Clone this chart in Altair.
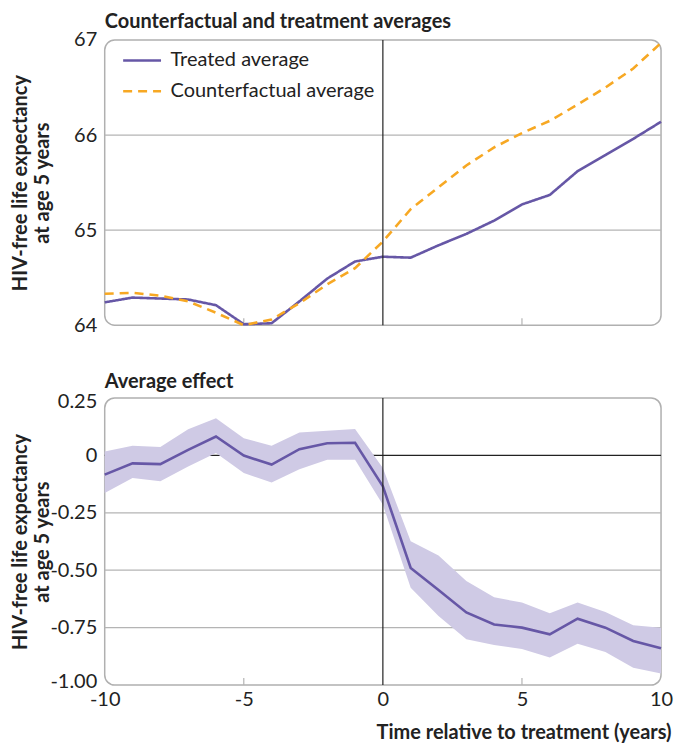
import altair as alt
import pandas as pd

# ---------------- data ----------------
years = list(range(-10, 11))
treated = [64.24, 64.29, 64.28, 64.27, 64.21, 64.01, 64.02, 64.25, 64.49, 64.67, 64.72,
           64.71, 64.84, 64.96, 65.10, 65.27, 65.37, 65.62, 65.79, 65.96, 66.14]
counterfactual = [64.33, 64.34, 64.31, 64.25, 64.13, 64.00, 64.06, 64.23, 64.43, 64.60, 64.88,
                  65.22, 65.45, 65.68, 65.87, 66.02, 66.15, 66.32, 66.50, 66.70, 66.97]
effect = [-0.084, -0.035, -0.038, 0.024, 0.082, -0.001, -0.040, 0.027, 0.053, 0.055, -0.135,
          -0.490, -0.586, -0.684, -0.736, -0.750, -0.779, -0.711, -0.750, -0.808, -0.840]
effect_upper = [0.017, 0.042, 0.036, 0.114, 0.162, 0.075, 0.042, 0.100, 0.107, 0.115, -0.055,
                -0.374, -0.436, -0.547, -0.618, -0.641, -0.687, -0.641, -0.682, -0.740, -0.750]
effect_lower = [-0.164, -0.099, -0.113, -0.048, 0.010, -0.077, -0.118, -0.060, -0.019, -0.019, -0.215,
                -0.576, -0.699, -0.800, -0.826, -0.843, -0.880, -0.820, -0.856, -0.925, -0.950]

series_names = ["Treated average", "Counterfactual average"]
x_ticks = [-10, -5, 0, 5, 10]
inner_ticks = [-5, 5]
top_y_ticks = [64, 65, 66, 67]
top_grid = [65, 66]
bottom_y_ticks = [0.25, 0, -0.25, -0.5, -0.75, -1.0]
bottom_grid = [-0.25, -0.5, -0.75]
y_title = ["HIV-free life expectancy", "at age 5 years"]
x_title = "Time relative to treatment (years)"
top_title = "Counterfactual and treatment averages"
bottom_title = "Average effect"

# ---------------- style ----------------
PURPLE = "#6657a6"
ORANGE = "#f7a823"
BAND = "#cfcae5"
GRID = "#b4b4b4"
INK = "#222222"
FONT = "Lato"
FS = 20
W, H1, H2 = 558, 286, 288

avg_df = pd.DataFrame({
    "year": years * 2,
    "value": treated + counterfactual,
    "series": [series_names[0]] * len(years) + [series_names[1]] * len(years),
})
eff_df = pd.DataFrame({"year": years, "effect": effect, "upper": effect_upper, "lower": effect_lower})
tick_df = pd.DataFrame({"year": inner_ticks})
zero_x_df = pd.DataFrame({"year": [0]})


def y_axis(values, label_expr, h, flush=False):
    extra = {"labelFlush": True, "labelFlushOffset": 6} if flush else {}
    return alt.Axis(values=values, title=y_title, grid=False, domain=False, ticks=False,
                    labelExpr=label_expr, labelPadding=8, labelFontSize=FS, labelColor=INK,
                    titleAngle=-90, titleX=-94, titleY=h / 2, titleAlign="center",
                    titleBaseline="top", titleFontWeight="bold", titleFontSize=FS,
                    titleLineHeight=22, titleColor=INK, **extra)


x_scale = alt.Scale(domain=[-10, 10], nice=False, zero=False)
x_top = alt.X("year:Q", scale=x_scale, axis=None)
x_bottom_axis = alt.Axis(values=x_ticks, labelExpr="(datum.value < 0 ? '-' : '') + abs(datum.value)",
                         grid=False, domain=False, ticks=False, labelPadding=4, labelFlush=False,
                         labelFontSize=FS, labelColor=INK, title=x_title, titleFontWeight="bold",
                         titleFontSize=FS, titleColor=INK, titleAlign="right", titleX=W + 10,
                         titleY=48, titleBaseline="middle")
x_bottom = alt.X("year:Q", scale=x_scale, axis=x_bottom_axis)

# ---------------- top panel ----------------
top_scale = alt.Scale(domain=[64, 67], nice=False, zero=False)
top_axis = y_axis(top_y_ticks, "'' + datum.value", H1)
top_y = lambda f: alt.Y(f, scale=top_scale, axis=top_axis)

legend = alt.Legend(title=None, orient="none", legendX=17, legendY=0, symbolType="M-1,0L1,0",
                    symbolSize=1444, symbolStrokeWidth=2.5, labelFontSize=FS, labelColor=INK,
                    labelOffset=8, rowPadding=-17, padding=0, labelFont=FONT, labelLimit=0)

top_grid_layer = alt.Chart(pd.DataFrame({"value": top_grid})).mark_rule(
    color=GRID, strokeWidth=1.2).encode(y=top_y("value:Q"))
top_ticks = alt.Chart(tick_df).mark_rule(color=GRID, strokeWidth=1.2).encode(
    x=x_top, y=alt.value(H1), y2=alt.value(H1 - 7))
top_lines = alt.Chart(avg_df).mark_line(strokeWidth=2.6).encode(
    x=x_top,
    y=top_y("value:Q"),
    color=alt.Color("series:N", scale=alt.Scale(domain=series_names, range=[PURPLE, ORANGE]),
                    legend=legend),
    strokeDash=alt.StrokeDash("series:N", scale=alt.Scale(domain=series_names, range=[[1, 0], [9, 6]]),
                              legend=legend),
)
top_vline = alt.Chart(zero_x_df).mark_rule(color=INK, strokeWidth=1.2).encode(x=x_top)

top = alt.layer(top_grid_layer, top_ticks, top_lines, top_vline).properties(
    width=W, height=H1,
    title=alt.TitleParams(top_title, anchor="start", frame="group", fontSize=FS,
                          fontWeight="bold", color=INK, offset=-2, font=FONT),
)

# ---------------- bottom panel ----------------
bot_scale = alt.Scale(domain=[-1.0, 0.25], nice=False, zero=False)
bot_axis = y_axis(bottom_y_ticks,
                  "datum.value == 0 ? '0' : (datum.value < 0 ? '-' : '') + format(abs(datum.value), '.2f')",
                  H2, flush=True)
bot_y = lambda f: alt.Y(f, scale=bot_scale, axis=bot_axis)

bot_grid_layer = alt.Chart(pd.DataFrame({"effect": bottom_grid})).mark_rule(
    color=GRID, strokeWidth=1.2).encode(y=bot_y("effect:Q"))
bot_zero = alt.Chart(pd.DataFrame({"effect": [0]})).mark_rule(
    color=INK, strokeWidth=1.2).encode(y=bot_y("effect:Q"))
bot_band = alt.Chart(eff_df).mark_area(color=BAND, opacity=1).encode(
    x=x_bottom, y=bot_y("lower:Q"), y2="upper:Q")
bot_line = alt.Chart(eff_df).mark_line(color=PURPLE, strokeWidth=2.6).encode(
    x=x_bottom, y=bot_y("effect:Q"))
bot_vline = alt.Chart(zero_x_df).mark_rule(color=INK, strokeWidth=1.2).encode(x=x_bottom)
bot_ticks = alt.Chart(tick_df).mark_rule(color=GRID, strokeWidth=1.2).encode(
    x=x_bottom, y=alt.value(H2), y2=alt.value(H2 - 7))

bottom = alt.layer(bot_grid_layer, bot_zero, bot_band, bot_line, bot_vline, bot_ticks).properties(
    width=W, height=H2,
    title=alt.TitleParams(bottom_title, anchor="start", frame="group", fontSize=FS,
                          fontWeight="bold", color=INK, offset=0, font=FONT),
)

chart = alt.vconcat(top, bottom, spacing=35).properties(
    padding={"left": 2, "top": 2, "right": 0, "bottom": 0},
    background="white",
).configure(font=FONT).configure_view(
    stroke="#b0b0b0", strokeWidth=1.5, cornerRadius=10
)

chart.save("out.html", embed_options={"renderer": "svg", "actions": False})
